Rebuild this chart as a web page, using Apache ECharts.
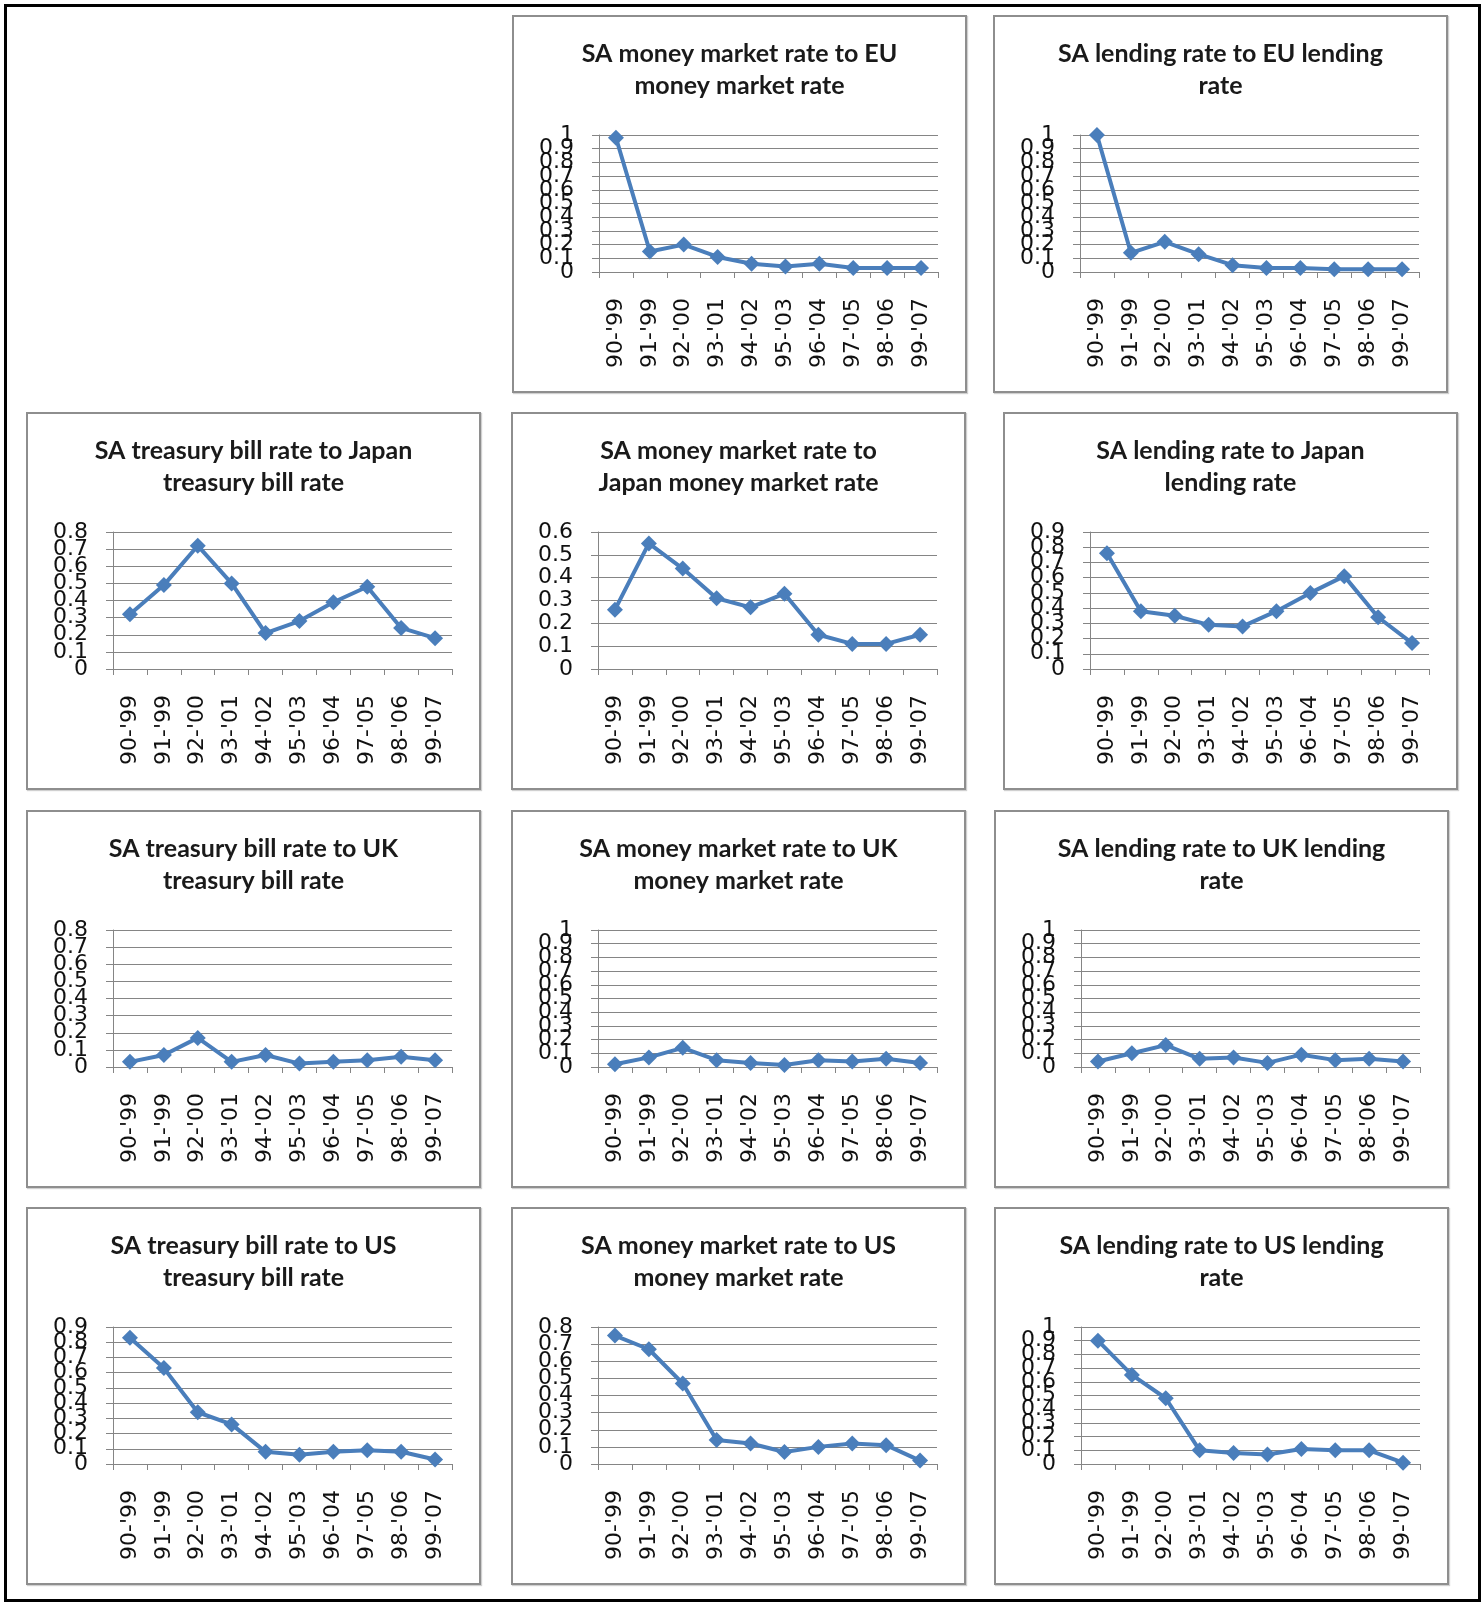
<!DOCTYPE html>
<html lang="en">
<head>
    <meta charset="UTF-8">
    <title>SA interest rate ratios</title>
    <script src="https://cdn.jsdelivr.net/npm/echarts@6/dist/echarts.min.js"></script>
    <style>
        html, body { margin: 0; padding: 0; background: #fff; }
        body { width: 1484px; height: 1605px; position: relative; overflow: hidden; }
        .frame {
            position: absolute; left: 4px; top: 4px; width: 1477px; height: 1598px;
            border: 3px solid #000; box-sizing: border-box;
        }
        .panel {
            position: absolute; width: 455px; height: 378px;
            border: 2px solid #8e8e8e; box-sizing: border-box; background: #fff;
            box-shadow: 1px 1px 1px #d0d0d0;
        }
        .panel .chart { width: 100%; height: 100%; }
    </style>
</head>
<body>
<div class="frame"></div>
<div id="panels"></div>
<script>
    // x axis categories (periods)
    var categories = ["90-'99", "91-'99", "92-'00", "93-'01", "94-'02", "95-'03", "96-'04", "97-'05", "98-'06", "99-'07"];

    // y tick labels for the different scales
    var ticksTo06 = ['0', '0.1', '0.2', '0.3', '0.4', '0.5', '0.6'];
    var ticksTo08 = ['0', '0.1', '0.2', '0.3', '0.4', '0.5', '0.6', '0.7', '0.8'];
    var ticksTo09 = ['0', '0.1', '0.2', '0.3', '0.4', '0.5', '0.6', '0.7', '0.8', '0.9'];
    var ticksTo1 = ['0', '0.1', '0.2', '0.3', '0.4', '0.5', '0.6', '0.7', '0.8', '0.9', '1'];

    // ratios
    var euMoneyMarket = [0.98, 0.15, 0.20, 0.11, 0.06, 0.04, 0.06, 0.03, 0.03, 0.03];
    var euLending = [1.0, 0.14, 0.22, 0.13, 0.05, 0.03, 0.03, 0.02, 0.02, 0.02];
    var japanTreasury = [0.32, 0.49, 0.72, 0.50, 0.21, 0.28, 0.39, 0.48, 0.24, 0.18];
    var japanMoneyMarket = [0.26, 0.55, 0.44, 0.31, 0.27, 0.33, 0.15, 0.11, 0.11, 0.15];
    var japanLending = [0.76, 0.38, 0.35, 0.29, 0.28, 0.38, 0.50, 0.61, 0.34, 0.17];
    var ukTreasury = [0.03, 0.07, 0.17, 0.03, 0.07, 0.02, 0.03, 0.04, 0.06, 0.04];
    var ukMoneyMarket = [0.02, 0.07, 0.14, 0.05, 0.03, 0.015, 0.05, 0.04, 0.06, 0.03];
    var ukLending = [0.04, 0.10, 0.16, 0.06, 0.07, 0.03, 0.09, 0.05, 0.06, 0.04];
    var usTreasury = [0.83, 0.63, 0.34, 0.26, 0.08, 0.06, 0.08, 0.09, 0.08, 0.03];
    var usMoneyMarket = [0.75, 0.67, 0.47, 0.14, 0.12, 0.07, 0.10, 0.12, 0.11, 0.02];
    var usLending = [0.90, 0.65, 0.48, 0.10, 0.08, 0.07, 0.11, 0.10, 0.10, 0.01];

    // chart titles and axis maxima
    var titles = [
        'SA money market rate to EU\nmoney market rate',
        'SA lending rate to EU lending\nrate',
        'SA treasury bill rate to Japan\ntreasury bill rate',
        'SA money market rate to\nJapan money market rate',
        'SA lending rate to Japan\nlending rate',
        'SA treasury bill rate to UK\ntreasury bill rate',
        'SA money market rate to UK\nmoney market rate',
        'SA lending rate to UK lending\nrate',
        'SA treasury bill rate to US\ntreasury bill rate',
        'SA money market rate to US\nmoney market rate',
        'SA lending rate to US lending\nrate'
    ];
    var seriesList = [euMoneyMarket, euLending, japanTreasury, japanMoneyMarket, japanLending,
        ukTreasury, ukMoneyMarket, ukLending, usTreasury, usMoneyMarket, usLending];
    var yMax = [1, 1, 0.8, 0.6, 0.9, 0.8, 1, 1, 0.9, 0.8, 1];
    var tickSets = [ticksTo1, ticksTo1, ticksTo08, ticksTo06, ticksTo09,
        ticksTo08, ticksTo1, ticksTo1, ticksTo09, ticksTo08, ticksTo1];

    // panel positions on the page
    var layout = [
        [512, 15], [993, 15],
        [26, 412], [511, 412], [1003, 412],
        [26, 810], [511, 810], [994, 810],
        [26, 1207], [511, 1207], [994, 1207]
    ];

    var gridColor = '#858585';
    var lineColor = '#4a7ebb';
    var labelFont = {fontFamily: 'DejaVu Sans', fontSize: 22, color: '#111'};
    var holder = document.getElementById('panels');

    for (var i = 0; i < titles.length; i++) {
        var panel = document.createElement('div');
        panel.className = 'panel';
        panel.style.left = layout[i][0] + 'px';
        panel.style.top = layout[i][1] + 'px';
        var box = document.createElement('div');
        box.className = 'chart';
        panel.appendChild(box);
        holder.appendChild(panel);

        var chart = echarts.init(box);
        chart.setOption({
            animation: false,
            title: {
                text: titles[i],
                left: 'center',
                top: 16,
                textStyle: {
                    fontFamily: 'Lato',
                    fontWeight: 'bold',
                    fontSize: 25,
                    lineHeight: 32,
                    color: '#1a1a1a'
                }
            },
            grid: {
                left: 85,
                right: 27,
                top: 118,
                height: 137
            },
            xAxis: {
                type: 'category',
                data: categories,
                boundaryGap: true,
                axisLine: {lineStyle: {color: gridColor, width: 1}},
                axisTick: {show: true, length: 6, lineStyle: {color: gridColor}},
                axisLabel: Object.assign({interval: 0, rotate: 90, margin: 26}, labelFont)
            },
            yAxis: [{
                type: 'value',
                min: 0,
                max: yMax[i],
                interval: 0.1,
                axisLine: {show: true, lineStyle: {color: gridColor, width: 1}},
                axisTick: {show: true, length: 7, lineStyle: {color: gridColor}},
                splitLine: {show: true, lineStyle: {color: gridColor, width: 1}},
                axisLabel: {show: false}
            }, {
                // label-only axis: Excel prints every tick label even when they pile up
                type: 'category',
                position: 'left',
                data: tickSets[i],
                boundaryGap: false,
                axisLine: {show: false},
                axisTick: {show: false},
                splitLine: {show: false},
                axisLabel: Object.assign({interval: 0, margin: 25}, labelFont)
            }],
            series: [{
                type: 'line',
                yAxisIndex: 0,
                data: seriesList[i],
                symbol: 'diamond',
                symbolSize: 16,
                lineStyle: {color: lineColor, width: 4},
                itemStyle: {color: lineColor}
            }]
        });
    }
</script>
</body>
</html>
